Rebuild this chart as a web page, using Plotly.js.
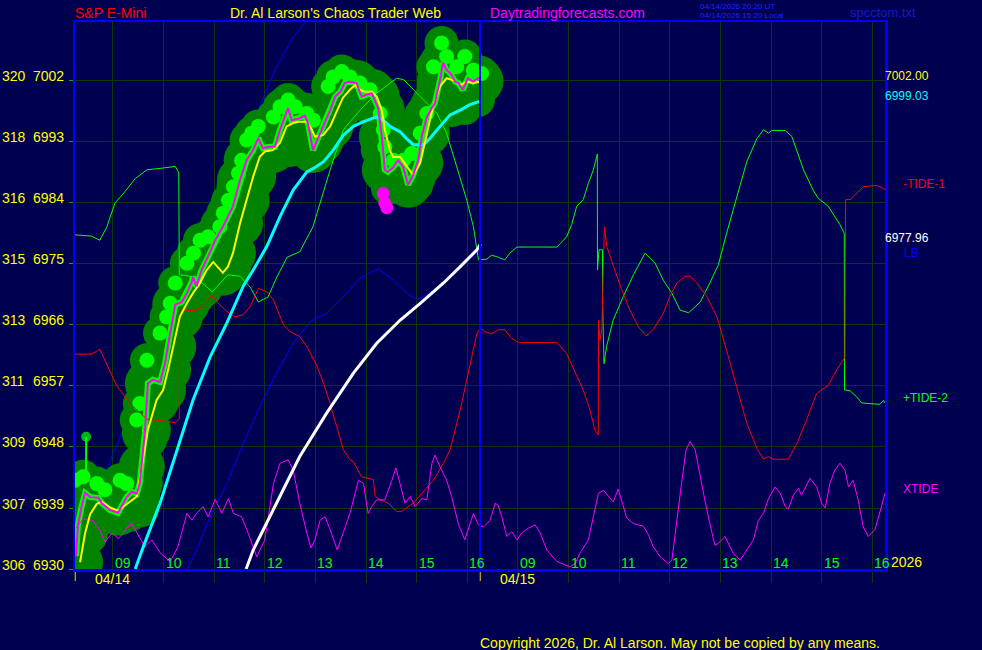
<!DOCTYPE html>
<html><head><meta charset="utf-8">
<script src="https://cdn.plot.ly/plotly-3.0.1.min.js"></script>
<style>html,body{margin:0;padding:0;background:#000050;overflow:hidden;} #chart{width:982px;height:650px;}</style>
</head><body><div id="chart"></div>
<script>
// ---- time axis: hours; day 2 (04/15) hours are shifted by +8 so 09:00 on 04/15 = 17 ----
const hourVals = [9,10,11,12,13,14,15,16,17,18,19,20,21,22,23,24];
const hourText = ['09','10','11','12','13','14','15','16','09','10','11','12','13','14','15','16'];
const dateVals = [9, 17];
const dateText = ['04/14', '04/15'];
const dayStarts = [8.25, 16.25];
const dayBreak = 16.25;
// ---- price axis ----
const yTickVals = [6930,6939,6948,6957,6966,6975,6984,6993,7002];
const yTickAlt  = ['306','307','309','311','313','315','316','318','320'];

// ---- S&P E-Mini price (magenta) ----
const priceT = [8.27,8.31,8.38,8.45,8.55,8.71,8.78,8.94,9.10,9.27,
  9.37,9.47,9.53,9.63,9.69,9.79,9.93,10.03,10.13,10.23,
  10.36,10.46,10.56,10.58,10.65,10.75,10.92,11.02,11.17,11.37,
  11.51,11.64,11.77,11.87,11.90,11.96,12.10,12.20,12.30,12.40,
  12.46,12.53,12.69,12.79,12.85,12.95,13.02,13.15,13.29,13.39,
  13.49,13.58,13.68,13.81,13.91,13.98,14.11,14.24,14.31,14.37,
  14.43,14.53,14.63,14.73,14.83,14.93,15.03,15.10,15.20,15.36,
  15.46,15.52,15.59,15.66,15.76,15.82,15.91,16.01,16.11,16.21,16.26];
const priceP = [6931.9,6936.5,6939.2,6941.2,6940.6,6940.5,6939.7,6938.7,6938.3,6940.6,
  6941.4,6941.1,6942.7,6950.1,6957.4,6957.9,6957.6,6960.4,6964.8,6969.0,
  6969.4,6970.7,6972.4,6973.1,6971.7,6974.1,6976.8,6978.5,6980.5,6983.5,
  6987.4,6990.3,6991.8,6993.6,6993.0,6992.1,6992.3,6992.3,6994.8,6996.7,
  6998.0,6996.2,6996.5,6996.9,6995.8,6991.8,6993.0,6995.3,6997.7,6999.7,
  7000.4,7001.7,7001.9,7001.7,6999.7,6999.9,7000.2,6998.0,6993.8,6988.9,
  6988.6,6989.2,6990.3,6989.4,6986.7,6988.1,6990.3,6993.8,6996.7,6998.8,
  7002.1,7004.7,7003.6,7003.2,7001.9,7001.7,7000.7,7002.4,7001.9,7002.4,7002.0];
// bar highs (bright green glow)
const hiT = [8.25,8.41,8.68,8.84,9.14,9.27,9.47,9.53,9.67,9.93,
  10.06,10.13,10.23,10.46,10.59,10.72,10.88,11.11,11.18,11.28,
  11.38,11.48,11.54,11.64,11.74,11.87,12.17,12.30,12.46,12.60,
  12.83,12.96,13.25,13.35,13.52,13.68,13.88,14.08,14.28,14.34,
  14.37,14.54,14.74,14.90,15.07,15.20,15.33,15.49,15.59,15.79,
  15.95,16.12,16.28];
const hiP = [6943.1,6943.6,6942.6,6941.7,6943.1,6942.6,6952.0,6954.4,6960.8,6964.8,
  6967.2,6969.2,6972.2,6975.1,6976.6,6978.5,6979.0,6980.5,6982.5,6984.4,
  6986.4,6988.4,6990.3,6993.3,6994.3,6995.3,6996.7,6998.2,6999.2,6998.2,
  6997.2,6996.2,7001.2,7002.6,7003.4,7002.6,7001.7,7000.7,6997.2,6994.8,
  6992.3,6990.3,6990.3,6991.3,6994.3,6997.2,7004.1,7007.6,7005.6,7004.1,
  7005.6,7003.6,7003.1];
// bar lows
const loT = [8.25,8.45,8.74,9.04,9.34,9.57,9.73,9.93,10.03,10.13,
  10.32,10.56,10.82,11.02,11.21,11.35,11.43,11.59,11.75,11.94,
  12.20,12.50,12.79,12.99,13.19,13.39,13.58,13.88,14.12,14.23,
  14.28,14.43,14.63,14.83,14.99,15.10,15.26,15.46,15.70,15.95,16.21];
const loP = [6938.7,6938.4,6938.0,6937.8,6938.0,6938.7,6949.0,6954.2,6959.4,6963.8,
  6966.7,6969.7,6971.2,6973.4,6975.3,6977.8,6981.5,6984.4,6988.1,6990.3,
  6991.5,6991.8,6991.8,6991.1,6992.6,6995.5,6998.5,6998.9,6997.7,6991.8,
  6988.6,6986.2,6986.4,6986.2,6986.7,6991.8,6995.5,6997.7,6997.7,6998.0,6999.2];
// ---- fast average (yellow) ----
const maT = [8.35,8.45,8.55,8.68,8.78,8.94,9.10,9.22,9.37,9.47,9.57,
  9.69,9.86,9.99,10.09,10.19,10.32,10.46,10.58,10.72,10.85,
  10.98,11.11,11.17,11.27,11.37,11.51,11.64,11.77,11.90,12.00,
  12.16,12.30,12.43,12.56,12.69,12.83,12.93,12.99,13.15,13.29,
  13.42,13.54,13.68,13.78,13.88,13.98,14.11,14.21,14.31,14.37,
  14.47,14.53,14.67,14.80,14.93,15.07,15.20,15.32,15.46,15.59,
  15.72,15.86,15.99,16.11,16.25];
const maP = [6931.0,6935.3,6938.1,6939.6,6939.9,6939.1,6938.6,6939.3,6940.2,6940.7,6945.1,
  6950.5,6954.9,6956.4,6959.4,6962.8,6967.2,6969.2,6970.7,6972.2,6974.1,
  6975.3,6974.1,6973.7,6974.6,6976.6,6981.0,6984.4,6987.9,6990.8,6991.6,
  6991.8,6992.9,6995.3,6995.8,6996.0,6996.0,6994.8,6993.8,6994.0,6995.3,
  6997.5,6999.5,7000.7,7001.4,7000.7,7000.4,7000.4,6999.7,6997.7,6994.8,
  6991.8,6990.8,6990.8,6989.4,6988.1,6989.9,6994.3,6998.2,7001.2,7002.4,
  7002.1,7001.4,7001.9,7001.7,7001.9];
// ---- slow average (cyan) ----
const cyT = [9.44,9.60,9.93,10.26,10.58,10.92,11.25,11.57,11.77,12.04,
  12.30,12.56,12.83,12.96,13.16,13.35,13.55,13.75,13.95,14.21,
  14.34,14.47,14.67,14.80,14.93,15.13,15.26,15.46,15.66,15.86,16.05,16.26];
const cyP = [6930.0,6933.3,6939.7,6947.6,6954.9,6961.3,6966.3,6971.7,6974.1,6977.6,
  6982.0,6985.9,6988.6,6989.1,6990.1,6991.8,6994.0,6995.3,6996.0,6996.7,
  6996.2,6995.3,6994.5,6993.5,6992.6,6992.6,6993.5,6995.3,6997.0,6997.7,6998.5,6999.03];
// ---- slowest average (white) ----
const whT = [11.63,11.77,12.23,12.69,13.22,13.75,14.21,14.67,15.07,15.53,15.86,16.19,16.26];
const whP = [6930.0,6932.8,6939.7,6946.6,6953.0,6958.9,6963.3,6966.7,6969.2,6972.2,6974.6,6977.1,6977.96];
// ---- blue channel lines ----
const b1T = [8.51,8.81,9.24,9.73,10.23,10.59,11.05,11.57,11.90,12.23,12.56,12.83];
const b1P = [6938.7,6943.6,6951.2,6960.5,6969.7,6976.6,6985.4,6992.8,6998.2,7004.1,7008.5,7011.0];
const lbT = [10.48,10.65,10.92,11.25,11.57,11.90,12.23,12.56,12.89,13.22,
  13.55,13.88,14.24,14.54,14.80,15.00,15.20,15.53,15.86,16.12,16.26];
const lbP = [6930.0,6932.8,6937.7,6942.6,6948.5,6953.9,6958.9,6963.3,6966.5,6967.7,
  6970.2,6972.9,6974.3,6972.6,6970.7,6969.8,6970.4,6972.4,6974.6,6976.3,6977.1];
// ---- +TIDE-2 (green) ----
const tide2T = [8.25,8.58,8.74,8.88,9.04,9.24,9.44,9.67,9.93,10.23,
  10.29,10.30,10.31,10.62,10.96,11.27,11.51,11.71,11.87,12.06,
  12.24,12.44,12.69,12.95,13.29,13.55,13.88,14.21,14.60,14.74,
  15.07,15.40,15.59,15.79,15.99,16.12,16.22,16.38,16.48,16.61,
  16.74,16.84,16.98,17.77,17.96,18.06,18.16,18.29,18.39,18.49,
  18.567,18.571,18.60,18.669,18.673,18.70,18.75,18.88,19.08,19.28,
  19.51,19.71,19.87,20.04,20.20,20.37,20.60,20.79,20.96,21.12,
  21.32,21.52,21.72,21.85,21.95,22.01,22.28,22.41,22.64,22.83,
  22.93,23.13,23.36,23.446,23.45,23.56,23.69,23.79,23.95,24.15,24.22,24.25];
const tide2P = [6979.3,6979.1,6978.5,6980.5,6984.0,6985.7,6987.6,6988.9,6989.1,6989.4,
  6988.6,6988.4,6973.4,6973.1,6970.9,6973.4,6973.2,6971.6,6969.4,6970.1,
  6973.1,6976.0,6976.8,6980.5,6988.9,6994.8,6997.7,7000.2,7002.4,7002.2,
  6999.7,6997.2,6994.3,6989.4,6984.4,6980.5,6975.6,6975.7,6976.3,6976.0,
  6975.6,6976.6,6977.5,6977.5,6979.0,6980.8,6983.5,6984.5,6986.9,6988.9,
  6991.2,6974.1,6977.1,6977.1,6968.7,6960.3,6962.8,6966.7,6970.2,6973.4,
  6976.6,6975.1,6972.6,6970.7,6968.2,6967.8,6969.4,6972.2,6974.9,6979.5,
  6984.9,6990.1,6993.5,6994.8,6994.3,6994.7,6994.7,6993.8,6988.9,6985.9,
  6984.7,6983.5,6980.8,6979.5,6956.4,6956.3,6955.4,6954.5,6954.4,6954.3,6954.9,6954.5];
// ---- -TIDE-1 (red) ----
const tide1T = [8.25,8.58,8.74,8.91,9.07,9.34,9.53,9.67,9.93,10.23,
  10.31,10.314,10.46,10.65,10.82,10.95,11.08,11.25,11.41,11.57,
  11.71,11.87,12.04,12.17,12.37,12.50,12.69,12.83,13.02,13.16,
  13.29,13.42,13.55,13.68,13.75,13.91,14.14,14.18,14.28,14.44,
  14.60,14.70,14.93,15.16,15.33,15.53,15.66,15.86,16.02,16.19,
  16.26,16.35,16.48,16.61,16.74,16.88,17.01,17.77,17.96,18.16,
  18.29,18.42,18.52,18.587,18.591,18.62,18.656,18.707,18.755,18.89,
  19.05,19.21,19.38,19.53,19.67,19.87,20.00,20.14,20.30,20.40,
  20.53,20.73,20.93,21.12,21.32,21.52,21.72,21.85,21.95,22.04,
  22.34,22.51,22.70,22.90,23.13,23.30,23.46,23.472,23.56,23.69,
  23.82,24.09,24.18,24.25];
const tide1P = [6961.7,6961.7,6962.4,6959.8,6957.1,6954.4,6953.0,6952.1,6951.9,6951.6,
  6952.2,6968.0,6968.1,6968.2,6969.2,6970.4,6969.2,6968.0,6967.2,6967.5,
  6968.7,6971.4,6970.9,6969.7,6966.0,6965.0,6964.3,6962.8,6960.1,6957.4,
  6954.4,6951.0,6947.6,6946.1,6945.8,6943.6,6943.2,6940.7,6940.2,6939.7,
  6938.5,6938.5,6939.7,6941.7,6943.1,6945.6,6947.6,6953.5,6958.9,6964.8,
  6965.5,6965.0,6964.7,6965.3,6965.3,6964.0,6963.4,6963.4,6961.8,6958.4,
  6956.4,6953.5,6950.5,6949.8,6966.7,6963.8,6965.3,6980.5,6977.6,6974.6,
  6971.2,6968.2,6965.7,6964.4,6965.3,6967.7,6970.2,6972.2,6973.2,6973.2,
  6972.2,6970.2,6967.2,6962.3,6956.9,6951.5,6947.8,6946.2,6946.6,6946.2,
  6946.2,6948.5,6952.0,6955.9,6957.1,6959.4,6961.3,6984.5,6984.5,6985.4,
  6986.4,6986.6,6986.3,6986.0];
// ---- XTIDE (magenta, bottom) ----
const xtT = [8.27,8.41,8.59,8.74,8.84,8.98,9.11,9.27,9.37,
  9.50,9.63,9.77,9.93,10.13,10.28,10.46,10.56,10.65,10.78,
  10.88,11.02,11.15,11.28,11.38,11.54,11.67,11.84,12.00,12.17,
  12.30,12.46,12.56,12.69,12.83,12.91,12.99,13.09,13.19,13.29,
  13.43,13.55,13.68,13.85,13.95,14.04,14.11,14.21,14.37,14.51,
  14.59,14.67,14.77,14.87,14.97,15.10,15.20,15.30,15.36,15.46,
  15.59,15.69,15.82,15.95,16.12,16.22,16.32,16.45,16.55,16.61,
  16.68,16.78,16.88,16.98,17.07,17.20,17.34,17.44,17.57,17.77,
  18.03,18.13,18.23,18.39,18.52,18.59,18.69,18.79,18.88,18.98,
  19.08,19.15,19.28,19.48,19.58,19.67,19.81,19.97,20.04,20.14,
  20.23,20.32,20.40,20.50,20.60,20.69,20.79,20.89,20.96,21.03,
  21.09,21.25,21.39,21.52,21.65,21.75,21.85,21.95,22.08,22.18,
  22.28,22.34,22.44,22.54,22.60,22.77,22.90,23.00,23.07,23.16,
  23.26,23.36,23.46,23.53,23.62,23.72,23.82,23.92,24.05,24.18,24.25];
const xtP = [6936.0,6937.4,6937.2,6935.8,6934.0,6935.3,6934.5,6936.0,6936.7,
  6935.0,6933.3,6934.3,6932.4,6931.1,6933.2,6938.2,6937.2,6938.2,6939.2,
  6937.7,6940.3,6938.2,6940.4,6938.2,6937.7,6935.3,6931.8,6934.3,6942.6,
  6945.6,6946.1,6944.6,6939.7,6935.3,6933.1,6934.3,6937.2,6937.7,6935.8,
  6932.8,6935.3,6938.2,6943.1,6942.6,6938.2,6939.2,6940.2,6940.2,6943.1,
  6944.9,6942.6,6939.7,6940.7,6939.2,6940.4,6940.2,6945.6,6946.8,6945.1,
  6943.1,6940.7,6936.7,6934.3,6938.2,6936.5,6936.2,6937.2,6939.7,6939.4,
  6937.7,6934.8,6935.5,6934.3,6935.3,6936.0,6936.5,6935.3,6932.8,6931.1,
  6930.3,6930.8,6932.4,6934.3,6938.7,6941.2,6941.6,6940.7,6939.9,6941.8,
  6939.2,6937.5,6936.7,6936.3,6935.0,6933.3,6931.8,6930.8,6931.3,6937.7,
  6942.6,6947.6,6948.8,6947.6,6943.6,6940.2,6936.7,6933.5,6933.8,6934.3,
  6934.8,6932.3,6931.3,6932.8,6934.3,6937.2,6938.2,6940.4,6942.1,6941.2,
  6939.2,6938.8,6940.9,6941.9,6940.9,6943.4,6942.1,6939.7,6939.0,6942.6,
  6944.6,6945.6,6944.6,6942.1,6943.1,6940.2,6936.2,6934.8,6935.8,6939.2,6941.2];
// ---- markers ----
const lolT = [8.47, 8.47];
const lolP = [6943.1, 6949.5];
const dotT = [14.34, 14.37, 14.41];
const dotP = [6985.4, 6984.0, 6983.3];

// ================= drawing =================
const BG = '#000050', GRID = '#0c380c';
const F = 'Liberation Sans, Arial, sans-serif';
const DARK = '#008400', BRIGHT = '#00ff00';
function line(x, y, color, width) {
  return {type:'scatter', mode:'lines', x:x, y:y, line:{color:color, width:width}, hoverinfo:'skip'};
}
function dots(x, y, color, size) {
  return {type:'scatter', mode:'markers', x:x, y:y, marker:{color:color, size:size, line:{width:0}}, hoverinfo:'skip'};
}
const last = a => a[a.length - 1];
const traces = [
  line(b1T, b1P, '#0000ff', 1),
  line(lbT, lbP, '#0000ff', 1),
  dots(priceT, priceP, DARK, 46),
  dots(maT, maP, DARK, 46),
  dots(hiT, hiP, DARK, 34),
  dots(loT, loP, DARK, 34),
  line(priceT, priceP, BRIGHT, 6),
  dots(hiT, hiP, BRIGHT, 15),
  {type:'scatter', mode:'lines+markers', x:lolT, y:lolP, line:{color:BRIGHT, width:2},
   marker:{color:BRIGHT, size:[0, 10], line:{width:0}}, hoverinfo:'skip'},
  line(tide2T, tide2P, '#00ff00', 1),
  line(tide1T, tide1P, '#ff0000', 1),
  line(xtT, xtP, '#ff00ff', 1),
  line(whT, whP, '#ffffff', 3),
  line(cyT, cyP, '#00ffff', 3),
  line(maT, maP, '#ffff00', 2),
  line(priceT, priceP, '#ff00ff', 2),
  dots(dotT, dotP, '#ff00ff', 13)
];

const px = x => (x - 75) / 810;
const py = y => (569 - y) / 547;
const ann = [];
function txt(text, x, y, color, size, opts) {
  ann.push(Object.assign({text:text, x:x, y:y, xref:'paper', yref:'paper', xanchor:'left', yanchor:'middle',
    showarrow:false, borderpad:0, font:{family:F, size:size, color:color}}, opts || {}));
}
// header
txt('S&amp;P E-Mini', px(75), py(13), '#ff0000', 14, {xshift:-1});
txt("Dr. Al Larson's Chaos Trader Web", px(230), py(13), '#ffff00', 14, {xshift:-1});
txt('Daytradingforecasts.com', px(490), py(13), '#ff00ff', 14, {xshift:-1});
txt('04/14/2026 20:20 UT', px(700), py(6), '#2222ff', 8, {xshift:-1});
txt('04/14/2026 15:20 Local', px(700), py(15), '#2222ff', 8, {xshift:-1});
txt('spcctom.txt', px(850), py(12), '#1818c8', 13, {xshift:-1});
txt('Copyright 2026, Dr. Al Larson. May not be copied by any means.', px(480), py(643), '#ffff00', 14, {xshift:-1});
// left price labels
yTickVals.forEach((v, i) => {
  txt(yTickAlt[i], px(2), v, '#ffff00', 14, {yref:'y', yshift:4.5, xshift:-1});
  txt(String(v), px(33), v, '#ffff00', 14, {yref:'y', yshift:4.5, xshift:-1});
});
// hour labels
hourVals.forEach((h, i) => {
  txt(hourText[i], h, 0, '#00ff00', 14, {xref:'x', yshift:6, xshift:1});
});
dateVals.forEach((d, i) => {
  txt(dateText[i], d, 0, '#ffff00', 14, {xref:'x', xanchor:'center', yshift:-10});
});
dayStarts.forEach(d => {
  txt('|', d, 0, '#ffff00', 9, {xref:'x', xanchor:'center', yshift:-7});
});
txt('2026', px(891), 0, '#ffff00', 14, {yshift:7, xshift:-1});
// right-hand value labels
txt(last(priceP).toFixed(2), 1, last(priceP), '#ffff00', 12, {yref:'y', yshift:5, xshift:-1});
txt(last(cyP).toFixed(2), 1, last(cyP), '#00ffff', 12, {yref:'y', yshift:5, xshift:-1});
txt('-TIDE-1', px(903), last(tide1P), '#ff0000', 12, {yref:'y', yshift:5, xshift:-1});
txt(last(whP).toFixed(2), 1, last(whP), '#ffffff', 12, {yref:'y', yshift:6, xshift:-1});
txt('LB', px(904), last(lbP), '#0000ff', 12, {yref:'y', yshift:-3, xshift:-1});
txt('+TIDE-2', px(903), last(tide2P), '#00ff00', 12, {yref:'y', yshift:5, xshift:-1});
txt('XTIDE', px(903), last(xtP), '#ff00ff', 12, {yref:'y', yshift:4, xshift:-1});

const layout = {
  width:982, height:650,
  margin:{l:75, r:97, t:22, b:81, pad:0},
  paper_bgcolor:BG, plot_bgcolor:BG,
  showlegend:false,
  xaxis:{range:[8.25, 24.25], tickvals:hourVals, showticklabels:false,
    ticks:'outside', ticklen:11, tickcolor:GRID, tickwidth:1,
    showgrid:true, gridcolor:GRID, gridwidth:1, zeroline:false,
    showline:true, linecolor:'#0000ff', linewidth:2.5, mirror:true, fixedrange:true},
  yaxis:{range:[6930, 7010.7], tickvals:yTickVals, showticklabels:false,
    ticks:'outside', ticklen:4, tickcolor:'#00b000', tickwidth:1,
    showgrid:true, gridcolor:GRID, gridwidth:1, zeroline:false,
    showline:true, linecolor:'#0000ff', linewidth:2.5, mirror:true, fixedrange:true},
  shapes:[{type:'line', xref:'x', yref:'paper', x0:dayBreak, x1:dayBreak, y0:0, y1:1,
    line:{color:'#0000ff', width:2}, layer:'above'}],
  annotations:ann
};
Plotly.newPlot('chart', traces, layout, {staticPlot:true, displayModeBar:false});
</script>
</body></html>
